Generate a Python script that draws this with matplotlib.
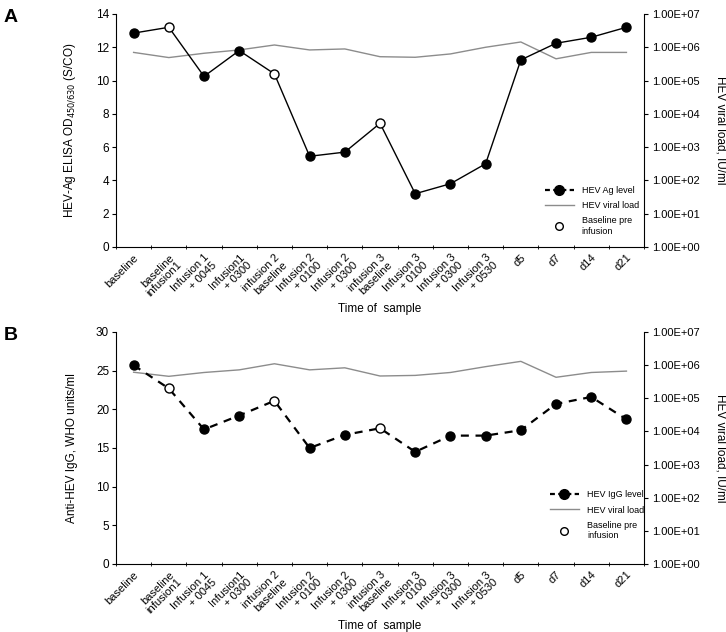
import numpy as np
import matplotlib.pyplot as plt
from matplotlib.lines import Line2D
from matplotlib.ticker import FixedLocator, FuncFormatter

plt.rcParams['font.family'] = ['Liberation Sans', 'DejaVu Sans']

# Data
samples = ['baseline', 'baseline\ninfusion1', 'Infusion 1\n+ 0045', 'Infusion1\n+ 0300',
           'infusion 2\nbaseline', 'Infusion 2\n+ 0100', 'Infusion 2\n+ 0300',
           'infusion 3\nbaseline', 'Infusion 3\n+ 0100', 'Infusion 3\n+ 0300',
           'Infusion 3\n+ 0530', 'd5', 'd7', 'd14', 'd21']
pre_infusion = [1, 4, 7]  # indices of "baseline pre infusion" samples

ag_level = [12.85, 13.2, 10.25, 11.8, 10.4, 5.45, 5.7, 7.43, 3.2, 3.8, 5.0, 11.24, 12.24, 12.6, 13.2]
viral_load_a = [7.0e5, 4.9e5, 6.6e5, 8.3e5, 1.17e6, 8.3e5, 8.9e5, 5.2e5, 5.0e5, 6.3e5,
                1.0e6, 1.44e6, 4.5e5, 7.0e5, 7.0e5]

igg_level = [25.7, 22.7, 17.4, 19.2, 21.1, 15.0, 16.7, 17.55, 14.5, 16.6, 16.6, 17.3, 20.7, 21.6, 18.7]
viral_load_b = [6.1e5, 4.6e5, 6.0e5, 7.2e5, 1.1e6, 7.2e5, 8.3e5, 4.7e5, 4.9e5, 6.0e5,
                9.0e5, 1.3e6, 4.3e5, 6.0e5, 6.6e5]

x = np.arange(len(samples))
grey = '#8c8c8c'


def sci_fmt(v, pos):
    return '1.00E+%02d' % int(round(np.log10(v)))


def draw_panel(fig, rect, values, vload, ymax, ystep, ylabel, dashed, leg_label, letter, leg_anchor):
    ax = fig.add_axes(rect)
    ax2 = ax.twinx()
    ax.set_zorder(ax2.get_zorder() + 1)
    ax.patch.set_visible(False)

    # viral load on log axis
    ax2.plot(x, vload, color=grey, linewidth=1.0)
    ax2.set_yscale('log')
    ax2.set_ylim(1, 1e7)
    ax2.yaxis.set_major_locator(FixedLocator([10.0 ** k for k in range(8)]))
    ax2.yaxis.set_minor_locator(FixedLocator([]))
    ax2.yaxis.set_major_formatter(FuncFormatter(sci_fmt))
    ax2.set_ylabel('HEV viral load, IU/ml', rotation=270, labelpad=19, fontsize=8.5)

    # antibody / antigen level
    if dashed:
        ax.plot(x, values, color='black', linewidth=1.6, dashes=(3.6, 3.0), zorder=2)
    else:
        ax.plot(x, values, color='black', linewidth=1.0, zorder=2)
    closed = [i for i in x if i not in pre_infusion]
    ax.plot(x[closed], [values[i] for i in closed], 'o', color='black', markersize=6.5, zorder=3)
    ax.plot(x[pre_infusion], [values[i] for i in pre_infusion], 'o', markerfacecolor='white',
            markeredgecolor='black', markersize=6.5, markeredgewidth=1.0, zorder=3)

    ax.set_xlim(-0.5, len(samples) - 0.5)
    ax.set_ylim(0, ymax)
    ax.set_yticks(np.arange(0, ymax + 0.1, ystep))
    ax.set_xticks(x)
    ax.set_xticklabels(samples, rotation=45, ha='right', rotation_mode='anchor', fontsize=8,
                       linespacing=1.05)
    ax.set_xticks(np.arange(-0.5, len(samples)), minor=True)
    ax.tick_params(axis='x', which='major', length=0, pad=4)
    ax.tick_params(axis='x', which='minor', length=3, direction='inout')
    ax.tick_params(axis='y', labelsize=8.5, length=3, pad=2)
    ax2.tick_params(axis='y', labelsize=8, length=3, pad=3)
    ax.set_ylabel(ylabel, fontsize=8.5, labelpad=13)
    ax.set_xlabel('Time of  sample', fontsize=8.5, labelpad=1)

    for a in (ax, ax2):
        a.spines['top'].set_visible(False)
    ax.spines['right'].set_visible(False)
    ax2.spines['left'].set_visible(False)
    ax2.spines['bottom'].set_visible(False)

    handles = [
        Line2D([0], [0], color='black', linewidth=1.6, dashes=(2.2, 1.5), marker='o', markersize=7),
        Line2D([0], [0], color=grey, linewidth=1.0),
        Line2D([0], [0], linestyle='none', marker='o', markerfacecolor='white',
               markeredgecolor='black', markersize=5.5),
    ]
    ax.legend(handles, [leg_label, 'HEV viral load', 'Baseline pre\ninfusion'], loc='upper left',
              bbox_to_anchor=leg_anchor, frameon=False, fontsize=6.5, handlelength=3.2,
              handletextpad=0.9, labelspacing=0.7, borderpad=0.2)

    fig.text(0.005, rect[1] + rect[3] + 0.008, letter, fontsize=14, fontweight='bold', va='top')
    return ax, ax2


fig = plt.figure(figsize=(7.26, 6.32), dpi=100)

draw_panel(fig, [0.1598, 0.6092, 0.7273, 0.3687], ag_level, viral_load_a, 14, 2,
           'HEV-Ag ELISA OD$_{450/630}$ (S/CO)', False, 'HEV Ag level', 'A', (0.8, 0.29))
draw_panel(fig, [0.1598, 0.1076, 0.7273, 0.3671], igg_level, viral_load_b, 30, 5,
           'Anti-HEV IgG, WHO units/ml', True, 'HEV IgG level', 'B', (0.81, 0.345))

fig.savefig('out.png', dpi=100)
